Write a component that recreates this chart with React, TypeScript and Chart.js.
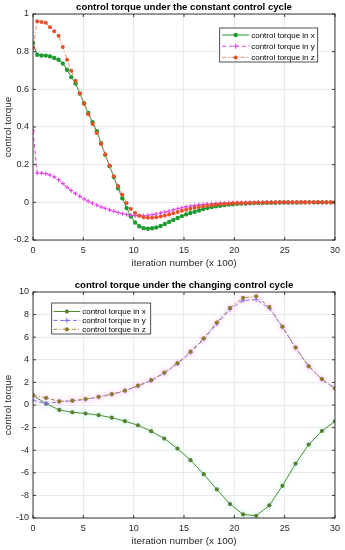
import React, { useEffect, useRef } from 'react';
import { Chart, registerables } from 'chart.js';

Chart.register(...registerables);

const FONT = "'Liberation Sans', Arial, Helvetica, sans-serif";
const AXIS_COLOR = '#262626';
const GRID_COLOR = '#e4e4e4';

// ---------- data: constant control cycle ----------
const constIteration = [
  0, 0.42, 0.85, 1.27, 1.69, 2.11, 2.54, 2.96, 3.38, 3.8, 4.23, 4.65, 5.07, 5.49, 5.92, 6.34,
  6.76, 7.18, 7.61, 8.03, 8.45, 8.87, 9.3, 9.72, 10.14, 10.56, 10.99, 11.41, 11.83, 12.25, 12.68, 13.1,
  13.52, 13.94, 14.37, 14.79, 15.21, 15.63, 16.06, 16.48, 16.9, 17.32, 17.75, 18.17, 18.59, 19.01, 19.44, 19.86,
  20.28, 20.7, 21.13, 21.55, 21.97, 22.39, 22.82, 23.24, 23.66, 24.08, 24.51, 24.93, 25.35, 25.77, 26.2, 26.62,
  27.04, 27.46, 27.89, 28.31, 28.73, 29.15, 29.58, 30,
];
const constTorqueX = [
  0.846, 0.784, 0.78, 0.779, 0.775, 0.766, 0.757, 0.737, 0.704, 0.665, 0.631, 0.578, 0.526, 0.474, 0.425, 0.378,
  0.314, 0.252, 0.192, 0.134, 0.075, 0.022, -0.03, -0.075, -0.107, -0.127, -0.137, -0.14, -0.138, -0.133, -0.125, -0.115,
  -0.104, -0.094, -0.083, -0.073, -0.064, -0.057, -0.05, -0.043, -0.036, -0.03, -0.025, -0.021, -0.018, -0.015, -0.012, -0.01,
  -0.008, -0.007, -0.006, -0.005, -0.004, -0.003, -0.003, -0.002, -0.002, -0.002, -0.001, -0.001, -0.001, -0.001, -0.001, 0,
  0, 0, 0, 0, 0, 0, 0, 0,
];
const constTorqueY = [
  0.38, 0.155, 0.155, 0.152, 0.145, 0.135, 0.12, 0.1, 0.08, 0.062, 0.046, 0.032, 0.018, 0.006, -0.005, -0.015,
  -0.024, -0.032, -0.04, -0.047, -0.054, -0.06, -0.065, -0.069, -0.071, -0.072, -0.071, -0.069, -0.066, -0.062, -0.057, -0.052,
  -0.047, -0.04, -0.034, -0.029, -0.024, -0.02, -0.016, -0.013, -0.011, -0.009, -0.007, -0.006, -0.005, -0.004, -0.003, -0.003,
  -0.002, -0.002, -0.002, -0.001, -0.001, -0.001, -0.001, 0, 0, 0, 0, 0, 0, 0, 0, 0,
  0, 0, 0, 0, 0, 0, 0, 0,
];
const constTorqueZ = [
  0.82, 0.962, 0.958, 0.953, 0.93, 0.909, 0.885, 0.825, 0.757, 0.699, 0.645, 0.578, 0.523, 0.468, 0.416, 0.368,
  0.31, 0.255, 0.195, 0.138, 0.087, 0.04, -0.004, -0.036, -0.057, -0.071, -0.079, -0.082, -0.082, -0.079, -0.075, -0.07,
  -0.064, -0.058, -0.051, -0.045, -0.039, -0.034, -0.029, -0.025, -0.021, -0.018, -0.015, -0.012, -0.01, -0.008, -0.007, -0.005,
  -0.004, -0.003, -0.003, -0.002, -0.002, -0.001, -0.001, -0.001, -0.001, 0, 0, 0, 0, 0, 0, 0,
  0, 0, 0, 0, 0, 0, 0, 0,
];

// ---------- data: changing control cycle ----------
const changeIteration = [
  0, 1.3, 2.61, 3.91, 5.22, 6.52, 7.83, 9.13, 10.43, 11.74, 13.04, 14.35,
  15.65, 16.96, 18.26, 19.57, 20.87, 22.17, 23.48, 24.78, 26.09, 27.39, 28.7, 30,
];
const changeTorqueX = [
  0.85, 0.12, -0.44, -0.64, -0.75, -0.9, -1.12, -1.43, -1.79, -2.32, -2.97, -3.85,
  -4.88, -6.12, -7.47, -8.77, -9.68, -9.8, -8.88, -7.15, -5.18, -3.5, -2.3, -1.44,
];
const changeTorqueY = [
  0.42, 0.12, 0.3, 0.36, 0.5, 0.7, 0.94, 1.25, 1.67, 2.16, 2.82, 3.64,
  4.64, 5.82, 7.18, 8.45, 9.25, 9.33, 8.55, 6.88, 5.04, 3.41, 2.28, 1.46,
];
const changeTorqueZ = [
  0.85, 0.63, 0.32, 0.38, 0.52, 0.72, 0.96, 1.27, 1.71, 2.2, 2.86, 3.7,
  4.72, 5.9, 7.3, 8.59, 9.48, 9.62, 8.67, 6.93, 5.08, 3.43, 2.29, 1.47,
];

const xTickValues = [0, 5, 10, 15, 20, 25, 30];
const constYTicks = [-0.2, 0, 0.2, 0.4, 0.6, 0.8, 1];
const changeYTicks = [-10, -8, -6, -4, -2, 0, 2, 4, 6, 8, 10];
const seriesLabels = ['control torque in x', 'control torque in y', 'control torque in z'];
const chartTitles = [
  'control torque under the constant control cycle',
  'control torque under the changing control cycle',
];
const xAxisTitle = 'iteration number (x 100)';
const yAxisTitle = 'control torque';

// ---------- plugins ----------
function drawMarker(ctx: CanvasRenderingContext2D, style: string, x: number, y: number, r: number, color: string) {
  ctx.save();
  ctx.setLineDash([]);
  if (style === 'cross') {
    ctx.strokeStyle = color;
    ctx.lineWidth = 1;
    ctx.beginPath();
    ctx.moveTo(x - r, y);
    ctx.lineTo(x + r, y);
    ctx.moveTo(x, y - r);
    ctx.lineTo(x, y + r);
    ctx.stroke();
  } else {
    ctx.fillStyle = color;
    ctx.beginPath();
    ctx.arc(x, y, r, 0, Math.PI * 2);
    ctx.fill();
  }
  ctx.restore();
}

const framePlugin = {
  id: 'matlabFrame',
  afterDraw(chart: any) {
    const { ctx, chartArea: a, scales } = chart;
    ctx.save();
    ctx.strokeStyle = AXIS_COLOR;
    ctx.lineWidth = 0.9;
    ctx.strokeRect(a.left, a.top, a.right - a.left, a.bottom - a.top);
    const tl = 3;
    ctx.beginPath();
    scales.x.ticks.forEach((t: any) => {
      const px = scales.x.getPixelForValue(t.value);
      ctx.moveTo(px, a.bottom);
      ctx.lineTo(px, a.bottom - tl);
      ctx.moveTo(px, a.top);
      ctx.lineTo(px, a.top + tl);
    });
    scales.y.ticks.forEach((t: any) => {
      const py = scales.y.getPixelForValue(t.value);
      ctx.moveTo(a.left, py);
      ctx.lineTo(a.left + tl, py);
      ctx.moveTo(a.right, py);
      ctx.lineTo(a.right - tl, py);
    });
    ctx.stroke();
    ctx.restore();
  },
};

const titlePlugin = {
  id: 'plotTitle',
  afterDraw(chart: any, _args: any, opts: any) {
    const { ctx, chartArea: a } = chart;
    ctx.save();
    ctx.font = `bold 9.6px ${FONT}`;
    ctx.fillStyle = '#000';
    ctx.textAlign = 'center';
    ctx.textBaseline = 'middle';
    ctx.fillText(opts.text, (a.left + a.right) / 2, opts.y);
    ctx.restore();
  },
};

const boxLegendPlugin = {
  id: 'boxLegend',
  afterDraw(chart: any, _args: any, opts: any) {
    const { ctx, chartArea: a } = chart;
    const x = opts.anchor === 'right' ? a.right - opts.dx - opts.w : a.left + opts.dx;
    const y = a.top + opts.dy;
    ctx.save();
    ctx.fillStyle = '#fff';
    ctx.fillRect(x, y, opts.w, opts.h);
    ctx.strokeStyle = AXIS_COLOR;
    ctx.lineWidth = 0.8;
    ctx.strokeRect(x, y, opts.w, opts.h);
    ctx.font = `8px ${FONT}`;
    ctx.textBaseline = 'middle';
    ctx.textAlign = 'left';
    chart.data.datasets.forEach((ds: any, i: number) => {
      const cy = y + opts.rowTop + i * opts.rowH;
      ctx.save();
      ctx.strokeStyle = ds.borderColor;
      ctx.lineWidth = ds.borderWidth;
      ctx.setLineDash(ds.borderDash || []);
      ctx.beginPath();
      ctx.moveTo(x + opts.lineStart, cy);
      ctx.lineTo(x + opts.lineEnd, cy);
      ctx.stroke();
      ctx.restore();
      drawMarker(ctx, ds.pointStyle, x + (opts.lineStart + opts.lineEnd) / 2, cy, ds.pointRadius + (ds.pointStyle === 'cross' ? 0.5 : 0), ds.pointBackgroundColor);
      ctx.fillStyle = '#000';
      ctx.fillText(ds.label, x + opts.textX, cy + 0.5);
    });
    ctx.restore();
  },
};

const haloPlugin = {
  id: 'lineHalo',
  beforeDatasetDraw(chart: any, args: any, opts: any) {
    if (!opts.colors) return;
    const c = opts.colors[args.index];
    chart.ctx.save();
    chart.ctx.shadowColor = c;
    chart.ctx.shadowBlur = opts.blur;
  },
  afterDatasetDraw(chart: any, _args: any, opts: any) {
    if (!opts.colors) return;
    chart.ctx.restore();
  },
};

function toPoints(xs: number[], ys: number[]) {
  return xs.map((x, i) => ({ x, y: ys[i] }));
}

function fmt(v: number) {
  return String(+Number(v).toFixed(1));
}

function buildConfig(p: any) {
  return {
    type: 'line',
    data: { datasets: p.datasets },
    plugins: [framePlugin, titlePlugin, boxLegendPlugin, haloPlugin],
    options: {
      animation: false,
      responsive: false,
      maintainAspectRatio: false,
      layout: { padding: { top: p.padTop, right: 7, left: 0, bottom: 0 } },
      plugins: {
        legend: { display: false },
        tooltip: { enabled: false },
        title: { display: false },
        plotTitle: { text: p.title, y: p.titleY },
        boxLegend: p.legend,
        lineHalo: p.halo || {},
      },
      scales: {
        x: {
          type: 'linear',
          min: 0,
          max: 30,
          afterBuildTicks: (s: any) => {
            s.ticks = xTickValues.map((value) => ({ value }));
          },
          afterFit: (s: any) => {
            s.height = p.xAxisHeight;
          },
          grid: { color: GRID_COLOR, lineWidth: 0.8, drawTicks: false },
          border: { display: false },
          ticks: {
            font: { family: FONT, size: 9 },
            color: AXIS_COLOR,
            padding: 5,
            maxRotation: 0,
            autoSkip: false,
            callback: (v: any) => fmt(v),
          },
          title: {
            display: true,
            text: xAxisTitle,
            font: { family: FONT, size: 9.9 },
            color: AXIS_COLOR,
            padding: { top: 0, bottom: p.xTitlePad },
          },
        },
        y: {
          type: 'linear',
          min: p.yMin,
          max: p.yMax,
          afterBuildTicks: (s: any) => {
            s.ticks = p.yTicks.map((value: number) => ({ value }));
          },
          afterFit: (s: any) => {
            s.width = 33;
          },
          grid: { color: GRID_COLOR, lineWidth: 0.8, drawTicks: false },
          border: { display: false },
          ticks: {
            font: { family: FONT, size: 9 },
            color: AXIS_COLOR,
            padding: 4,
            autoSkip: false,
            callback: (v: any) => fmt(v),
          },
          title: {
            display: true,
            text: yAxisTitle,
            font: { family: FONT, size: 9.9 },
            color: AXIS_COLOR,
            padding: { top: 2, bottom: 0 },
          },
        },
      },
    },
  };
}

function lineDataset(label: string, xs: number[], ys: number[], s: any) {
  return {
    label,
    data: toPoints(xs, ys),
    borderColor: s.line,
    borderWidth: 1,
    borderDash: s.dash || [],
    pointStyle: s.marker,
    pointRadius: s.r,
    pointBorderWidth: s.marker === 'cross' ? 1 : 0,
    pointBackgroundColor: s.point,
    pointBorderColor: s.point,
    tension: 0,
    fill: false,
    order: s.order,
  };
}

function ChartCanvas({ config, width, height }: any) {
  const ref = useRef<HTMLCanvasElement | null>(null);
  useEffect(() => {
    if (!ref.current) return;
    const chart = new Chart(ref.current, config);
    return () => chart.destroy();
  }, [config]);
  return <canvas ref={ref} width={width} height={height} style={{ display: 'block', width, height }} />;
}

const topConfig = buildConfig({
  title: chartTitles[0],
  titleY: 7,
  padTop: 14,
  xAxisHeight: 35,
  xTitlePad: 6,
  yMin: -0.2,
  yMax: 1,
  yTicks: constYTicks,
  legend: { anchor: 'right', dx: 17.3, dy: 14, w: 98, h: 34, rowTop: 7, rowH: 11.2, lineStart: 2.5, lineEnd: 29.5, textX: 31.5 },
  datasets: [
    lineDataset(seriesLabels[0], constIteration, constTorqueX, { line: '#22973a', point: '#1f9a30', marker: 'circle', r: 2.2, order: 2 }),
    lineDataset(seriesLabels[1], constIteration, constTorqueY, { line: '#e040e0', point: '#e040e0', marker: 'cross', r: 2.2, dash: [4, 2.5], order: 1 }),
    lineDataset(seriesLabels[2], constIteration, constTorqueZ, { line: '#f28a60', point: '#e8502c', marker: 'circle', r: 2, dash: [4, 2, 1.2, 2], order: 0 }),
  ],
});

const bottomConfig = buildConfig({
  title: chartTitles[1],
  titleY: 10,
  padTop: 17,
  xAxisHeight: 32,
  xTitlePad: 3,
  yMin: -10,
  yMax: 10,
  yTicks: changeYTicks,
  legend: { anchor: 'left', dx: 18.7, dy: 11, w: 99, h: 31, rowTop: 8.5, rowH: 8.9, lineStart: 1.8, lineEnd: 28.5, textX: 30.5 },
  halo: { colors: ['rgba(120,235,205,0.55)', 'rgba(255,150,255,0.6)', 'rgba(255,150,255,0.6)'], blur: 5 },
  datasets: [
    lineDataset(seriesLabels[0], changeIteration, changeTorqueX, { line: '#4f8a30', point: '#5a7f34', marker: 'circle', r: 2.1, order: 2 }),
    lineDataset(seriesLabels[1], changeIteration, changeTorqueY, { line: '#7b6cf0', point: '#7b6cf0', marker: 'cross', r: 2.2, dash: [4, 2.5], order: 1 }),
    lineDataset(seriesLabels[2], changeIteration, changeTorqueZ, { line: '#a88a3c', point: '#8e7c30', marker: 'circle', r: 2.1, dash: [4, 2, 1.2, 2], order: 0 }),
  ],
});

export default function App() {
  return (
    <div style={{ position: 'absolute', left: 0, top: 0, width: 345, height: 550, overflow: 'hidden', background: '#fff' }}>
      <ChartCanvas config={topConfig} width={345} height={275} />
      <ChartCanvas config={bottomConfig} width={345} height={275} />
    </div>
  );
}
